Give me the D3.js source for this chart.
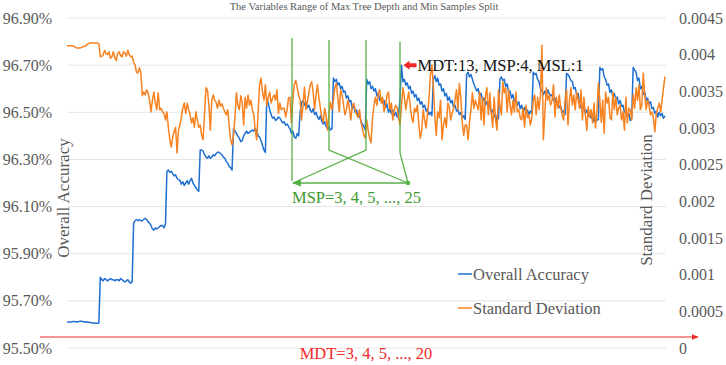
<!DOCTYPE html>
<html>
<head>
<meta charset="utf-8">
<script src="https://cdn.jsdelivr.net/npm/d3@7"></script>
<style>
  body { margin: 0; background: #fff; }
  svg { display: block; font-family: "Liberation Serif", "Times New Roman", serif; }
</style>
</head>
<body>
<svg id="chart" width="726" height="365"></svg>
<script>
// MDT = max tree depth (outer loop), MSP = min samples split (inner loop)
const mdtValues = [3, 4, 5, 6, 7, 8, 9, 10, 11, 12, 13, 14, 15, 16, 17, 18, 19, 20];
const mspValues = [3, 4, 5, 6, 7, 8, 9, 10, 11, 12, 13, 14, 15, 16, 17, 18, 19, 20, 21, 22, 23, 24, 25];

// overall accuracy (%), one row per MDT, one value per MSP
const accuracy = [
  [95.61,95.61,95.61,95.61,95.612,95.612,95.611,95.61,95.612,95.614,95.613,95.612,95.61,95.611,95.61,95.609,95.608,95.607,95.606,95.606,95.605,95.605,95.606],
  [95.80,95.79,95.785,95.795,95.79,95.785,95.79,95.795,95.79,95.79,95.785,95.79,95.79,95.785,95.795,95.79,95.785,95.78,95.785,95.79,95.78,95.775,95.78],
  [96.03,96.04,96.045,96.04,96.045,96.04,96.04,96.045,96.05,96.045,96.035,96.03,96.02,96.005,96.0,96.01,96.005,96.01,96.015,96.02,96.02,96.01,96.025],
  [96.25,96.255,96.245,96.25,96.24,96.23,96.235,96.22,96.215,96.21,96.195,96.205,96.19,96.20,96.21,96.195,96.21,96.22,96.2,96.19,96.18,96.17,96.165],
  [96.34,96.34,96.335,96.32,96.31,96.305,96.315,96.305,96.31,96.32,96.315,96.325,96.33,96.33,96.325,96.32,96.31,96.305,96.29,96.285,96.27,96.265,96.255],
  [96.43,96.42,96.41,96.40,96.39,96.375,96.38,96.40,96.41,96.42,96.41,96.415,96.42,96.425,96.42,96.43,96.425,96.40,96.395,96.38,96.36,96.34,96.33],
  [96.56,96.54,96.51,96.49,96.475,96.48,96.465,96.47,96.48,96.475,96.465,96.455,96.46,96.445,96.45,96.44,96.43,96.41,96.42,96.395,96.39,96.41,96.40],
  [96.50,96.54,96.55,96.53,96.545,96.52,96.53,96.51,96.50,96.515,96.49,96.50,96.48,96.47,96.485,96.46,96.45,96.46,96.44,96.43,96.44,96.425,96.43],
  [96.645,96.63,96.64,96.615,96.625,96.60,96.61,96.585,96.59,96.56,96.57,96.545,96.55,96.515,96.53,96.50,96.51,96.48,96.49,96.46,96.45,96.44,96.425],
  [96.64,96.62,96.63,96.60,96.61,96.59,96.60,96.57,96.58,96.55,96.56,96.54,96.55,96.52,96.535,96.50,96.515,96.495,96.51,96.485,96.50,96.48,96.49],
  [96.56,96.70,96.63,96.64,96.615,96.625,96.60,96.61,96.58,96.59,96.565,96.575,96.55,96.56,96.535,96.545,96.52,96.53,96.505,96.515,96.49,96.50,96.485],
  [96.64,96.655,96.63,96.645,96.615,96.62,96.59,96.60,96.57,96.58,96.55,96.565,96.54,96.55,96.52,96.53,96.505,96.51,96.49,96.50,96.475,96.485,96.47],
  [96.66,96.67,96.65,96.66,96.64,96.62,96.605,96.59,96.60,96.57,96.58,96.55,96.56,96.53,96.545,96.52,96.53,96.50,96.51,96.48,96.49,96.465,96.475],
  [96.64,96.65,96.635,96.64,96.61,96.62,96.585,96.59,96.56,96.575,96.545,96.555,96.53,96.545,96.515,96.53,96.505,96.52,96.495,96.51,96.49,96.505,96.495],
  [96.67,96.66,96.665,96.64,96.63,96.60,96.59,96.575,96.59,96.575,96.595,96.58,96.57,96.575,96.55,96.56,96.535,96.545,96.52,96.525,96.50,96.505,96.49],
  [96.665,96.66,96.65,96.635,96.63,96.60,96.605,96.575,96.58,96.535,96.52,96.51,96.525,96.495,96.51,96.485,96.49,96.475,96.485,96.46,96.48,96.465,96.47],
  [96.69,96.68,96.685,96.65,96.64,96.615,96.62,96.585,96.595,96.565,96.58,96.555,96.565,96.535,96.55,96.525,96.53,96.50,96.51,96.48,96.495,96.465,96.475],
  [96.69,96.68,96.67,96.635,96.645,96.60,96.61,96.575,96.585,96.55,96.56,96.535,96.545,96.515,96.52,96.495,96.505,96.48,96.50,96.485,96.495,96.475,96.485]
];

// standard deviation, same layout
const stdDev = [
  [0.00412,0.00412,0.00412,0.00412,0.00412,0.00411,0.00410,0.00409,0.00409,0.00409,0.00410,0.00411,0.00411,0.00412,0.00414,0.00415,0.00416,0.00416,0.00416,0.00416,0.00416,0.00416,0.00415],
  [0.00397,0.00398,0.00400,0.00406,0.00401,0.00400,0.00404,0.00395,0.00397,0.00404,0.00396,0.00392,0.00402,0.00404,0.00399,0.00397,0.00404,0.00402,0.00398,0.00406,0.00400,0.00397,0.00398],
  [0.00390,0.00386,0.00376,0.00375,0.00382,0.00376,0.00344,0.00349,0.00345,0.00352,0.00348,0.00338,0.00322,0.00338,0.00349,0.00334,0.00325,0.00348,0.00325,0.00327,0.00322,0.00320,0.00311],
  [0.00322,0.00301,0.00284,0.00274,0.00288,0.00295,0.00301,0.00266,0.00297,0.00304,0.00315,0.00327,0.00334,0.00320,0.00334,0.00325,0.00318,0.00307,0.00314,0.00301,0.00322,0.00311,0.00301],
  [0.00304,0.00290,0.00284,0.00320,0.00355,0.00352,0.00331,0.00297,0.00338,0.00345,0.00338,0.00335,0.00327,0.00338,0.00330,0.00333,0.00327,0.00322,0.00318,0.00325,0.00304,0.00284,0.00277],
  [0.00290,0.00314,0.00348,0.00331,0.00325,0.00344,0.00335,0.00304,0.00342,0.00327,0.00345,0.00331,0.00338,0.00325,0.00318,0.00297,0.00284,0.00322,0.00359,0.00368,0.00349,0.00338,0.00359],
  [0.00331,0.00342,0.00349,0.00334,0.00341,0.00345,0.00338,0.00352,0.00320,0.00334,0.00325,0.00327,0.00327,0.00315,0.00325,0.00341,0.00342,0.00307,0.00338,0.00359,0.00365,0.00355,0.00345],
  [0.00338,0.00311,0.00331,0.00356,0.00325,0.00335,0.00348,0.00359,0.00363,0.00349,0.00325,0.00345,0.00359,0.00341,0.00327,0.00314,0.00308,0.00327,0.00315,0.00297,0.00322,0.00335,0.00325],
  [0.00338,0.00355,0.00361,0.00342,0.00322,0.00352,0.00345,0.00331,0.00318,0.00325,0.00338,0.00327,0.00311,0.00329,0.00334,0.00325,0.00318,0.00315,0.00325,0.00308,0.00300,0.00290,0.00286],
  [0.00311,0.00297,0.00286,0.00280,0.00314,0.00331,0.00342,0.00331,0.00349,0.00352,0.00334,0.00342,0.00322,0.00331,0.00345,0.00349,0.00325,0.00334,0.00311,0.00325,0.00331,0.00327,0.00314],
  [0.00304,0.00331,0.00355,0.00342,0.00325,0.00338,0.00349,0.00331,0.00314,0.00308,0.00327,0.00322,0.00331,0.00304,0.00286,0.00297,0.00325,0.00311,0.00300,0.00320,0.00341,0.00372,0.00386],
  [0.00359,0.00318,0.00290,0.00322,0.00314,0.00338,0.00284,0.00304,0.00314,0.00301,0.00334,0.00329,0.00311,0.00320,0.00327,0.00338,0.00352,0.00325,0.00361,0.00341,0.00308,0.00290,0.00304],
  [0.00304,0.00284,0.00308,0.00325,0.00348,0.00327,0.00338,0.00331,0.00325,0.00349,0.00311,0.00342,0.00304,0.00345,0.00355,0.00318,0.00348,0.00320,0.00301,0.00342,0.00311,0.00297,0.00352],
  [0.00331,0.00318,0.00363,0.00348,0.00355,0.00322,0.00352,0.00331,0.00318,0.00338,0.00322,0.00349,0.00322,0.00325,0.00314,0.00311,0.00327,0.00301,0.00331,0.00314,0.00318,0.00304,0.00314],
  [0.00338,0.00345,0.00318,0.00342,0.00325,0.00345,0.00413,0.00284,0.00320,0.00355,0.00338,0.00345,0.00331,0.00338,0.00359,0.00315,0.00342,0.00327,0.00345,0.00327,0.00318,0.00311,0.00338],
  [0.00352,0.00304,0.00338,0.00355,0.00331,0.00345,0.00325,0.00349,0.00338,0.00327,0.00352,0.00311,0.00342,0.00318,0.00297,0.00329,0.00315,0.00325,0.00307,0.00334,0.00300,0.00322,0.00361],
  [0.00338,0.00308,0.00338,0.00293,0.00349,0.00334,0.00342,0.00314,0.00311,0.00349,0.00325,0.00342,0.00318,0.00327,0.00331,0.00311,0.00322,0.00297,0.00342,0.00307,0.00327,0.00325,0.00311],
  [0.00345,0.00327,0.00355,0.00338,0.00359,0.00325,0.00331,0.00375,0.00345,0.00325,0.00338,0.00331,0.00318,0.00322,0.00314,0.00295,0.00320,0.00327,0.00334,0.00322,0.00338,0.00355,0.00370]
];

const accTicks = [95.5, 95.7, 95.9, 96.1, 96.3, 96.5, 96.7, 96.9];
const stdTicks = [0, 0.0005, 0.001, 0.0015, 0.002, 0.0025, 0.003, 0.0035, 0.004, 0.0045];
const stdTickLabels = ["0", "0.0005", "0.001", "0.0015", "0.002", "0.0025", "0.003", "0.0035", "0.004", "0.0045"];

// best combination, pointed at by the red arrow
const best = { mdt: 13, msp: 4, msl: 1 };

const plot = { left: 67, right: 665, top: 18, bottom: 348 };
const blue = "#1f6fd1", orange = "#f7821f", grey = "#595959";
const green = "#58b147", greenText = "#3f9a32", red = "#f02828";

const svg = d3.select("#chart");
const nMsp = mspValues.length;
const nAll = mdtValues.length * nMsp;

const x = d3.scaleLinear().domain([0, nAll - 1]).range([plot.left, plot.right]);
const yAcc = d3.scaleLinear().domain([95.5, 96.9]).range([plot.bottom, plot.top]);
const yStd = d3.scaleLinear().domain([0, 0.0045]).range([plot.bottom, plot.top]);

const flat = rows => rows.flatMap((row, b) => row.map((v, k) => ({ i: b * nMsp + k, v })));
const accPts = flat(accuracy);
const stdPts = flat(stdDev);

// defs: arrow heads
const defs = svg.append("defs");
function marker(id, color, size) {
  defs.append("marker")
    .attr("id", id).attr("viewBox", "0 0 10 10")
    .attr("refX", 9).attr("refY", 5)
    .attr("markerWidth", size).attr("markerHeight", size)
    .attr("markerUnits", "userSpaceOnUse")
    .attr("orient", "auto-start-reverse")
    .append("path").attr("d", "M0,1L10,5L0,9z").attr("fill", color);
}
marker("arrRed", red, 7);
marker("arrGreen", green, 9);

// title
svg.append("text")
  .attr("x", 364).attr("y", 9.5)
  .attr("text-anchor", "middle")
  .attr("font-size", 10.5).attr("fill", grey)
  .text("The Variables Range of Max Tree Depth and Min Samples Split");

// gridlines + left ticks
svg.append("g").selectAll("line").data(accTicks).join("line")
  .attr("x1", plot.left).attr("x2", plot.right + 1)
  .attr("y1", d => yAcc(d)).attr("y2", d => yAcc(d))
  .attr("stroke", "#e6e6e6").attr("stroke-width", 1);

svg.append("g").selectAll("text").data(accTicks).join("text")
  .attr("x", 52).attr("y", d => yAcc(d)).attr("dy", "0.35em")
  .attr("text-anchor", "end").attr("font-size", 16).attr("fill", grey)
  .text(d => d3.format(".2f")(d) + "%");

svg.append("g").selectAll("text").data(stdTicks).join("text")
  .attr("x", 679).attr("y", d => yStd(d)).attr("dy", "0.35em")
  .attr("text-anchor", "start").attr("font-size", 16).attr("fill", grey)
  .text((d, i) => stdTickLabels[i]);

// axis titles
svg.append("text")
  .attr("transform", "translate(69,198) rotate(-90)")
  .attr("text-anchor", "middle").attr("font-size", 17).attr("fill", grey)
  .text("Overall Accuracy");
svg.append("text")
  .attr("transform", "translate(652,200) rotate(-90)")
  .attr("text-anchor", "middle").attr("font-size", 17).attr("fill", grey)
  .text("Standard Deviation");

// series
svg.append("path").datum(accPts)
  .attr("fill", "none").attr("stroke", blue).attr("stroke-width", 1.5)
  .attr("stroke-linejoin", "round")
  .attr("d", d3.line().x(d => x(d.i)).y(d => yAcc(d.v)));
svg.append("path").datum(stdPts)
  .attr("fill", "none").attr("stroke", orange).attr("stroke-width", 1.5)
  .attr("stroke-linejoin", "round")
  .attr("d", d3.line().x(d => x(d.i)).y(d => yStd(d.v)));

// red MDT axis
svg.append("line")
  .attr("x1", 40).attr("x2", 698).attr("y1", 337).attr("y2", 337)
  .attr("stroke", red).attr("stroke-width", 1.2)
  .attr("marker-end", "url(#arrRed)");
svg.append("text")
  .attr("x", 366).attr("y", 359).attr("text-anchor", "middle")
  .attr("font-size", 16.5).attr("fill", red)
  .text(`MDT=${mdtValues[0]}, ${mdtValues[1]}, ${mdtValues[2]}, ..., ${mdtValues[mdtValues.length - 1]}`);

// green MSP bracket
const gg = svg.append("g").attr("fill", "none").attr("stroke", green).attr("stroke-width", 1.3);
gg.append("path").attr("d", "M292,38V181");
gg.append("path").attr("d", "M329,40V150L408,183");
gg.append("path").attr("d", "M366,40V150L293,183");
gg.append("path").attr("d", "M400,42V153L408,183");
gg.append("line").attr("x1", 293).attr("y1", 183).attr("x2", 409).attr("y2", 183)
  .attr("marker-start", "url(#arrGreen)");
gg.append("circle").attr("cx", 408).attr("cy", 183).attr("r", 1.6).attr("fill", green);
svg.append("text")
  .attr("x", 292).attr("y", 203)
  .attr("font-size", 16.5).attr("fill", greenText)
  .text(`MSP=${mspValues[0]}, ${mspValues[1]}, ${mspValues[2]}, ..., ${mspValues[nMsp - 1]}`);

// best point annotation
const bi = (best.mdt - mdtValues[0]) * nMsp + (best.msp - mspValues[0]);
const bx = x(bi), by = yAcc(accuracy[best.mdt - mdtValues[0]][best.msp - mspValues[0]]);
svg.append("path")
  .attr("d", `M${bx + 2},${by}L${bx + 8},${by - 4.5}V${by - 2}H${bx + 15}V${by + 2}H${bx + 8}V${by + 4.5}Z`)
  .attr("fill", red);
svg.append("text")
  .attr("x", bx + 16).attr("y", by + 6)
  .attr("font-size", 16.5).attr("fill", "#111")
  .text(`MDT:${best.mdt}, MSP:${best.msp}, MSL:${best.msl}`);

// legend
const legend = [
  { name: "Overall Accuracy", color: blue, y: 274 },
  { name: "Standard Deviation", color: orange, y: 308 }
];
const lg = svg.append("g").selectAll("g").data(legend).join("g");
lg.append("line")
  .attr("x1", 458).attr("x2", 472).attr("y1", d => d.y).attr("y2", d => d.y)
  .attr("stroke", d => d.color).attr("stroke-width", 1.5);
lg.append("text")
  .attr("x", 473).attr("y", d => d.y + 5.5)
  .attr("font-size", 16.5).attr("fill", grey)
  .text(d => d.name);
</script>
</body>
</html>
